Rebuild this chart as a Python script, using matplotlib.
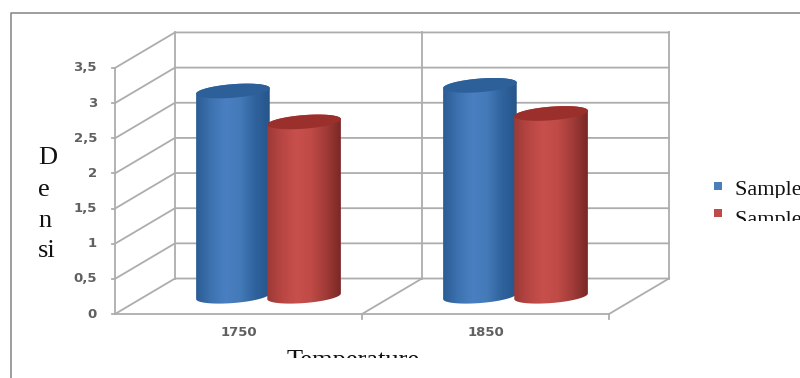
import numpy as np
import matplotlib.pyplot as plt
from matplotlib.colors import LinearSegmentedColormap
from matplotlib.patches import Polygon, Rectangle

plt.rcParams['font.family'] = ['Liberation Serif', 'DejaVu Serif']

categories = ['1750', '1850']
sample1 = [2.92, 3.0]
sample2 = [2.48, 2.6]
yticks = [0, 0.5, 1, 1.5, 2, 2.5, 3, 3.5]
yticklabels = ['0', '0,5', '1', '1,5', '2', '2,5', '3', '3,5']
series_names = ['Sample 1', 'Sample 2']

W, H = 800, 378
fig = plt.figure(figsize=(W / 100, H / 100), dpi=100)
ax = fig.add_axes([0, 0, 1, 1])

# one category is 247 px wide, one value unit is 70.3 px tall
ux, uy = 247.0, 70.3
x0, y0 = 115.0, 314.0
ax.set_xlim(-x0 / ux, (W - x0) / ux)
ax.set_ylim((y0 - H) / uy, y0 / uy)
ax.axis('off')

# oblique depth of the floor
dx, dy = 60 / ux, 35.5 / uy
ymax = 3.5
grid = '#adadad'
lw = 1.3

# walls and floor
for v in yticks:
    ax.plot([0, dx, dx + 2], [v, v + dy, v + dy], color=grid, lw=lw, zorder=1)
    ax.plot([-3 / ux, 0], [v, v], color=grid, lw=lw, zorder=1)
ax.plot([dx + 2, dx + 2], [dy, ymax + dy], color=grid, lw=lw, zorder=1)
ax.plot([dx, dx], [dy, ymax + dy], color=grid, lw=lw, zorder=1)
ax.plot([dx + 1, dx + 1], [dy, ymax + dy], color=grid, lw=lw, zorder=1)
ax.plot([0, 0], [0, ymax], color=grid, lw=lw, zorder=1)
ax.plot([0, 2], [0, 0], color=grid, lw=lw, zorder=1)
for i in [1, 2]:
    ax.plot([i, i + dx], [0, dy], color=grid, lw=lw, zorder=1)
    ax.plot([i, i], [0, -5 / uy], color=grid, lw=lw, zorder=1)

blue_cm = LinearSegmentedColormap.from_list('b', ['#2b5c94', '#3d72b0', '#4a80c2', '#447ab8', '#2f639e', '#27558a'])
red_cm = LinearSegmentedColormap.from_list('r', ['#9c3a37', '#b84643', '#c8504c', '#bf4a46', '#a03b38', '#7a2826'])
grad = np.linspace(0, 1, 128).reshape(1, -1)

half_w = 0.149
minor = 6.8 / uy
tilt = 2.8 / uy
off = 0.144


def ellipse(cx, cy, t):
    return np.column_stack([cx + half_w * np.cos(t), cy + tilt * np.cos(t) + minor * np.sin(t)])


def cylinder(cx, value, cmap, top_color, z):
    base = dy / 2
    lower = ellipse(cx, base, np.linspace(np.pi, 2 * np.pi, 60))
    upper = ellipse(cx, base + value, np.linspace(0, np.pi, 60))
    body = Polygon(np.vstack([lower, upper]), closed=True, fc='none', ec='none')
    ax.add_patch(body)
    im = ax.imshow(grad, cmap=cmap, aspect='auto', zorder=z,
                   extent=[cx - half_w, cx + half_w, base - 0.2, base + value + 0.2])
    im.set_clip_path(body)
    lid = ellipse(cx, base + value, np.linspace(0, 2 * np.pi, 120))
    ax.add_patch(Polygon(lid, closed=True, fc=top_color, ec='none', zorder=z + 0.5))


for i in range(len(categories)):
    mid = i + 0.5 + dx / 2
    cylinder(mid - off, sample1[i], blue_cm, '#2d5f98', 3 + i * 2)
    cylinder(mid + off, sample2[i], red_cm, '#9a2f2c', 4 + i * 2)
ax.set_xlim(-x0 / ux, (W - x0) / ux)
ax.set_ylim((y0 - H) / uy, y0 / uy)

# tick labels
for v, lab in zip(yticks, yticklabels):
    ax.text(-18 / ux, v, lab, ha='right', va='center', fontsize=9.5, color='#606060',
            family='DejaVu Sans', fontweight='bold', zorder=10)
for i, c in enumerate(categories):
    ax.text(i + 0.5, -19 / uy, c, ha='center', va='center', fontsize=9.5, color='#606060',
            family='DejaVu Sans', fontweight='bold', zorder=10)

# axis titles, cut off along the lower and right edges of their boxes
for lab, py in zip(['D', 'e', 'n', 'si'], [158, 190, 221, 251]):
    ax.text((38 - x0) / ux, (y0 - py) / uy, lab, ha='left', va='center', fontsize=19, color='#111111')
t = ax.text((353 - x0) / ux, (y0 - 361) / uy, 'Temperature', ha='center', va='center',
            fontsize=19, color='#111111', clip_on=True)
t.set_clip_path(Rectangle((0, H - 358), W, 358, transform=None))

# legend
legend_colors = ['#4a7ebb', '#be4b48']
legend_py = [186, 213]
legend_text_py = [190, 220]
legend_clip = [(178, 198), (206, 221)]
for name, col, py, tpy, (c0, c1) in zip(series_names, legend_colors, legend_py, legend_text_py, legend_clip):
    ax.plot([(718 - x0) / ux], [(y0 - py) / uy], 's', color=col, ms=6, mew=0, zorder=10)
    lt = ax.text((735 - x0) / ux, (y0 - tpy) / uy, name, ha='left', va='center',
                 fontsize=16, color='#111111', clip_on=True)
    lt.set_clip_path(Rectangle((700, H - c1), 100, c1 - c0, transform=None))

# outer chart frame, open on the right and the bottom
border = '#8c8c8c'
ax.plot([(11 - x0) / ux, (11 - x0) / ux, (W - x0) / ux], [(y0 - H) / uy, (y0 - 13) / uy, (y0 - 13) / uy],
        color=border, lw=1.2, zorder=1)

fig.savefig('out.png', dpi=100)
